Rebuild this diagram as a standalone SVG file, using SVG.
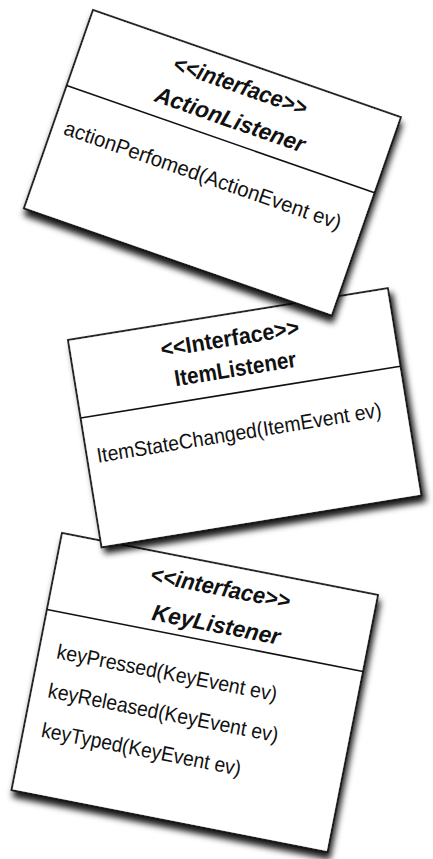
<svg xmlns="http://www.w3.org/2000/svg" width="433" height="859" viewBox="0 0 433 859">
<defs>
<filter id="sh" x="-10%" y="-10%" width="125%" height="125%">
<feDropShadow dx="3" dy="6" stdDeviation="3.2" flood-color="#000" flood-opacity="0.9"/>
</filter>
</defs>
<style>
.card{fill:#fff;stroke:#111;stroke-width:1.8;filter:url(#sh)}
.div{stroke:#111;stroke-width:1.6;fill:none}
.hd{font-family:"Liberation Sans",Arial,sans-serif;font-size:23px;font-weight:bold;fill:#111}
.it{font-style:italic}
.bd{font-family:"Liberation Sans",Arial,sans-serif;font-size:21px;fill:#111}
</style>
<rect width="433" height="859" fill="#fff"/>
<g id="keyListener" transform="translate(62,533) rotate(11.1)">
<rect class="card" x="0" y="0" width="322" height="262"/>
<line class="div" x1="0" y1="78" x2="322" y2="78"/>
<text class="hd it" x="95" y="31" textLength="142" lengthAdjust="spacingAndGlyphs">&lt;&lt;interface&gt;&gt;</text>
<text class="hd it" x="104" y="68" textLength="130" lengthAdjust="spacingAndGlyphs">KeyListener</text>
<text class="bd" x="18" y="124" textLength="224" lengthAdjust="spacingAndGlyphs">keyPressed(KeyEvent ev)</text>
<text class="bd" x="17" y="164" textLength="234" lengthAdjust="spacingAndGlyphs">keyReleased(KeyEvent ev)</text>
<text class="bd" x="18" y="204" textLength="203" lengthAdjust="spacingAndGlyphs">keyTyped(KeyEvent ev)</text>
</g>
<g id="itemListener" transform="translate(68,340) rotate(-9.2)">
<rect class="card" x="0" y="0" width="324" height="210"/>
<line class="div" x1="0" y1="79" x2="324" y2="79"/>
<text class="hd" x="90" y="32" textLength="140" lengthAdjust="spacingAndGlyphs">&lt;&lt;Interface&gt;&gt;</text>
<text class="hd" x="99" y="63" textLength="123" lengthAdjust="spacingAndGlyphs">ItemListener</text>
<text class="bd" x="10" y="126" textLength="288" lengthAdjust="spacingAndGlyphs">ItemStateChanged(ItemEvent ev)</text>
</g>
<g id="actionListener" transform="translate(93,10) rotate(19.2)">
<rect class="card" x="0" y="0" width="326" height="210"/>
<line class="div" x1="0" y1="80" x2="326" y2="80"/>
<text class="hd it" x="94" y="31" textLength="140" lengthAdjust="spacingAndGlyphs">&lt;&lt;interface&gt;&gt;</text>
<text class="hd it" x="87" y="66" textLength="157" lengthAdjust="spacingAndGlyphs">ActionListener</text>
<text class="bd" x="12" y="127" textLength="292" lengthAdjust="spacingAndGlyphs">actionPerfomed(ActionEvent ev)</text>
</g>
</svg>
